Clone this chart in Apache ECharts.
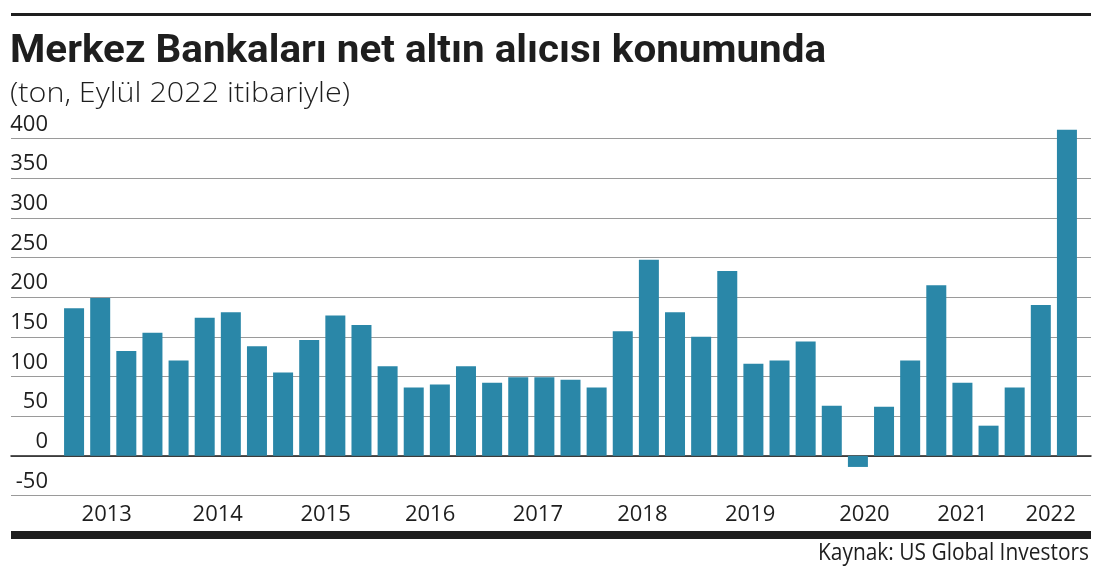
<!DOCTYPE html>
<html>
<head>
<meta charset="utf-8">
<script src="https://cdn.jsdelivr.net/npm/echarts@6/dist/echarts.min.js"></script>
<style>
html,body{margin:0;padding:0;background:#fff;}
#chart{width:1101px;height:578px;}
</style>
</head>
<body>
<div id="chart"></div>
<script>
// ---- data ----
var categories = [
  '2013 Ç1','2013 Ç2','2013 Ç3','2013 Ç4',
  '2014 Ç1','2014 Ç2','2014 Ç3','2014 Ç4',
  '2015 Ç1','2015 Ç2','2015 Ç3','2015 Ç4',
  '2016 Ç1','2016 Ç2','2016 Ç3','2016 Ç4',
  '2017 Ç1','2017 Ç2','2017 Ç3','2017 Ç4',
  '2018 Ç1','2018 Ç2','2018 Ç3','2018 Ç4',
  '2019 Ç1','2019 Ç2','2019 Ç3','2019 Ç4',
  '2020 Ç1','2020 Ç2','2020 Ç3','2020 Ç4',
  '2021 Ç1','2021 Ç2','2021 Ç3','2021 Ç4',
  '2022 Ç1','2022 Ç2','2022 Ç3'
];
var netPurchases = [
  186, 199, 132, 155,
  120, 174, 181, 138,
  105, 146, 177, 165,
  113, 86, 90, 113,
  92, 99, 99, 96,
  86, 157, 247, 181,
  150, 233, 116, 120,
  144, 63, -14, 62,
  120, 215, 92, 38,
  86, 190, 411
];
var yearLabels = ['2013','2014','2015','2016','2017','2018','2019','2020','2021','2022'];
// category index (in quarter units) at which each year label sits
var yearLabelAt = [1.25, 5.5, 9.625, 13.625, 17.75, 21.75, 25.875, 30.25, 34, 37.375];
var yTicks = { min: -50, max: 400, step: 50 };

var titleText = 'Merkez Bankaları net altın alıcısı konumunda';
var subtitleText = '(ton, Eylül 2022 itibariyle)';
var sourceText = 'Kaynak: US Global Investors';

// ---- helpers: emulate the condensed typefaces by horizontal scaling ----
var measureCtx = document.createElement('canvas').getContext('2d');
function fitScale(text, font, targetWidth) {
  measureCtx.font = font;
  var w = measureCtx.measureText(text).width;
  return w > 0 ? targetWidth / w : 1;
}
var ink = '#1e1e1e';
var titleFont = { family: 'Roboto', weight: 'bold', size: 38 };
var subFont = { family: 'Open Sans', weight: 300, size: 27 };
var srcFont = { family: 'Open Sans', weight: 'normal', size: 23 };
function fontStr(f) { return f.weight + ' ' + f.size + 'px "' + f.family + '"'; }
var titleScale = fitScale(titleText, fontStr(titleFont), 816);
var subScale = fitScale(subtitleText, fontStr(subFont), 340);
var srcScale = fitScale(sourceText, fontStr(srcFont), 271);

// ---- chart ----
var chart = echarts.init(document.getElementById('chart'), null, {renderer: 'canvas'});
var option = {
  backgroundColor: '#ffffff',
  animation: false,
  graphic: [
    { type: 'rect', shape: { x: 11, y: 13, width: 1080, height: 3 }, style: { fill: ink }, silent: true },
    { type: 'rect', shape: { x: 11, y: 531, width: 1080, height: 8 }, style: { fill: ink }, silent: true },
    { type: 'text', x: 10, y: 52.5, scaleX: titleScale, silent: true,
      style: { text: titleText, fontFamily: titleFont.family, fontWeight: titleFont.weight, fontSize: titleFont.size,
               fill: ink, align: 'left', verticalAlign: 'middle' } },
    { type: 'text', x: 10, y: 94.5, scaleX: subScale, silent: true,
      style: { text: subtitleText, fontFamily: subFont.family, fontWeight: subFont.weight, fontSize: subFont.size,
               fill: ink, align: 'left', verticalAlign: 'middle' } },
    { type: 'text', x: 1089, y: 553.5, scaleX: srcScale, silent: true,
      style: { text: sourceText, fontFamily: srcFont.family, fontWeight: srcFont.weight, fontSize: srcFont.size,
               fill: ink, align: 'right', verticalAlign: 'middle' } }
  ],
  grid: [
    { left: 11, right: 10, top: 138.5, bottom: 82.5, outerBoundsMode: 'none', containLabel: false },
    { left: 61, right: 21, top: 98.8, bottom: 82.5, outerBoundsMode: 'none', containLabel: false }
  ],
  xAxis: [
    { gridIndex: 0, type: 'value', min: 0, max: 1,
      axisLine: { show: true, onZero: true, lineStyle: { color: ink, width: 1.5 } },
      axisTick: { show: false }, axisLabel: { show: false }, splitLine: { show: false } },
    { gridIndex: 1, type: 'category', data: categories, boundaryGap: true,
      axisLine: { show: false }, axisTick: { show: false }, axisLabel: { show: false }, splitLine: { show: false } },
    { gridIndex: 1, type: 'value', min: -0.5, max: 38.5, interval: 0.125, position: 'bottom',
      axisLine: { show: false }, axisTick: { show: false }, splitLine: { show: false },
      axisLabel: {
        show: true, margin: 8, fontFamily: 'Open Sans', fontSize: 22, color: ink,
        hideOverlap: false, showMinLabel: true, showMaxLabel: true,
        formatter: function (v) {
          for (var i = 0; i < yearLabelAt.length; i++) {
            if (Math.abs(v - yearLabelAt[i]) < 0.01) return yearLabels[i];
          }
          return '';
        }
      } }
  ],
  yAxis: [
    { gridIndex: 0, type: 'value', min: yTicks.min, max: yTicks.max, interval: yTicks.step,
      axisLine: { show: false }, axisTick: { show: false },
      splitLine: { show: true, lineStyle: { color: '#9a9a9a', width: 1 } },
      axisLabel: { inside: true, margin: 37, align: 'right', verticalAlign: 'bottom',
        fontFamily: 'Open Sans', fontSize: 22, lineHeight: 22, padding: [0, 0, 3, 0], color: ink } },
    { gridIndex: 1, type: 'value', min: -50, max: 450,
      show: false, splitLine: { show: false } }
  ],
  series: [
    { type: 'bar', xAxisIndex: 1, yAxisIndex: 1, data: netPurchases, barWidth: 20,
      itemStyle: { color: '#2a87a8' }, silent: true }
  ]
};
chart.setOption(option);
</script>
</body>
</html>
